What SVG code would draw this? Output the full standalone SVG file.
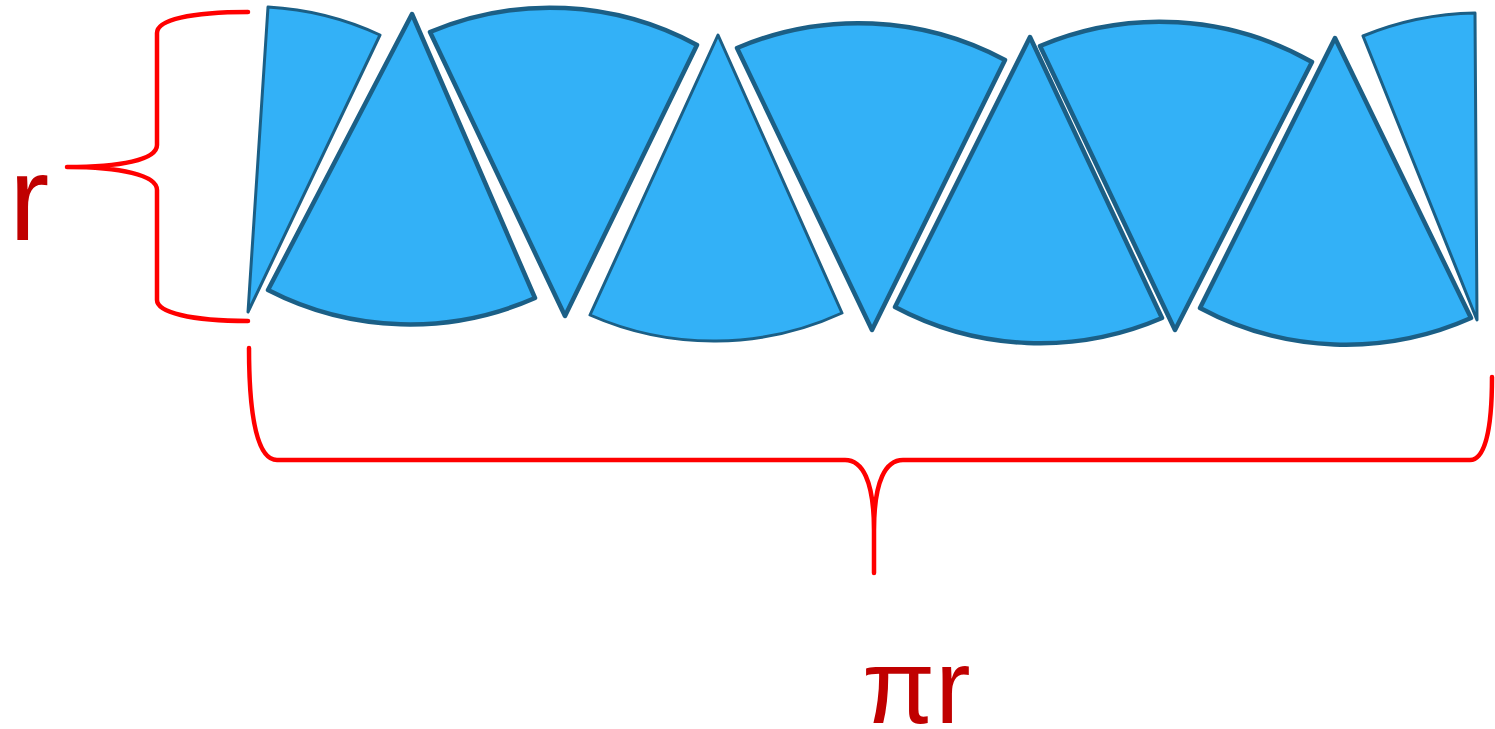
<svg xmlns="http://www.w3.org/2000/svg" width="1495" height="729" viewBox="0 0 1495 729">
<style>
.sec{fill:#33b1f7;stroke:#1b5f86;stroke-width:3;stroke-linejoin:round}
.thick{stroke-width:4.5}
.halo{fill:none;stroke:#ffffff;stroke-width:9;stroke-linejoin:round}
.brace{fill:none;stroke:#ff0000;stroke-width:4.5;stroke-linecap:round;stroke-linejoin:round}
.lbl{font-family:"Liberation Sans",Arial,sans-serif;fill:#c00000}
</style>
<rect width="1495" height="729" fill="#ffffff"/>
<g id="sectors">
<path id="s1" class="sec" d="M248,312 L268,7 A306,306 0 0,1 380,35 Z"/>
<path id="s3" class="sec thick" d="M565,316 L430,32 A308,308 0 0,1 697,45 Z"/>
<path class="halo" d="M412,14 L535,298 A310,310 0 0,1 268,290 Z"/>
<path id="s2" class="sec thick" d="M412,14 L535,298 A310,310 0 0,1 268,290 Z"/>
<path id="s4" class="sec" d="M718,35 L842,313 A307,307 0 0,1 590,315 Z"/>
<path id="s5" class="sec thick" d="M872,330 L737,48 A310,310 0 0,1 1005,60 Z"/>
<path class="halo" d="M1030,37 L1162,318 A308,308 0 0,1 895,307 Z"/>
<path id="s6" class="sec thick" d="M1030,37 L1162,318 A308,308 0 0,1 895,307 Z"/>
<path id="s7" class="sec thick" d="M1175,330 L1040,46 A308,308 0 0,1 1312,62 Z"/>
<path class="halo" d="M1335,38 L1471,318 A308,308 0 0,1 1200,308 Z"/>
<path id="s8" class="sec thick" d="M1335,38 L1471,318 A308,308 0 0,1 1200,308 Z"/>
<path id="s9" class="sec" d="M1477,320 L1363,36 A306,306 0 0,1 1475,13 Z"/>
</g>
<g id="braces">
<path id="brace-r" class="brace" d="M248,12 C190,12 157,20 157,33 L157,145 C157,160 120,167 67,167 C120,167 157,175 157,190 L157,300 C157,312 190,321 248,321"/>
<path id="brace-pir" class="brace" d="M249,348 C249,420 258,460 277,460 L845,460 C862,460 874,480 874,530 L874,573 M874,530 C874,480 886,460 903,460 L1470,460 C1485,460 1492,430 1492,377"/>
</g>
<text id="label-r" class="lbl" x="9" y="240" font-size="121">r</text>
<text id="label-pir" class="lbl" x="862" y="723" font-size="106">πr</text>
</svg>
